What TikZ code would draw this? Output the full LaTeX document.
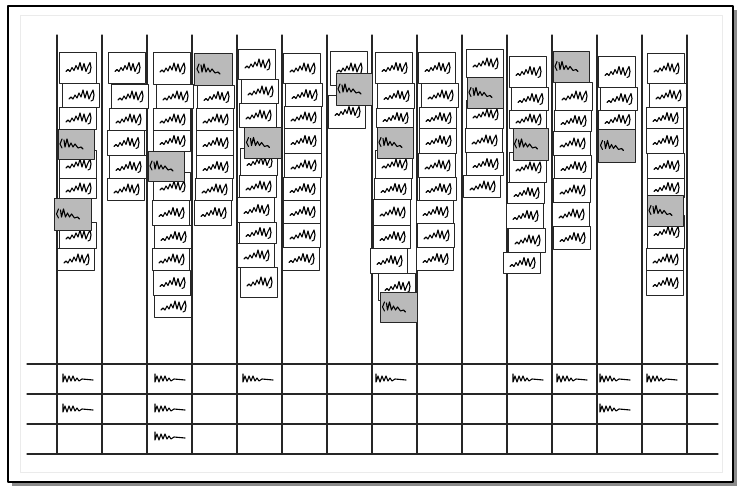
\documentclass[tikz,border=0pt]{standalone}
\begin{document}
\begin{tikzpicture}[x=1pt, y=-1pt, line join=round, line cap=round]
	\tikzset{
		card/.style={draw=black!85, fill=white, line width=0.9pt},
		hotcard/.style={card, fill=black!27},
		rule/.style={draw=black!85, line width=1.1pt},
		ink/.style={draw=black, line width=1.1pt},
		pics/wiggle/.style={code={
			\draw[ink] (-13,4) -- (-11,2) -- (-9,4) -- (-7,0) -- (-5,3) -- (-3,-2) -- (-1,2) -- (1,-5) -- (3,3)
				-- (5,-4) -- (7,4) -- (9,-1) -- (11,-5) -- (12,0) -- (11,5) -- (9,6);}},
		pics/curl/.style={code={
			\draw[ink] (-11,-5) -- (-13,0) -- (-11,4) (-9,-4) -- (-8,3) -- (-6,-5) -- (-4,3) -- (-2,-1)
				-- (0,3) -- (2,0) -- (5,4) -- (8,3) -- (10,5);}},
		pics/scrawl/.style={code={
			\draw[ink] (0,-5) -- (0,3) -- (2,-3) -- (4,3) -- (6,-3) -- (8,2) -- (10,-3) -- (12,2) -- (14,-1)
				-- (16,2) -- (19,0) -- (30,1);}}
	}
	\useasboundingbox (0,0) rectangle (737,487);
	% frame with its shadow
	\fill[black!45] (12,10) rectangle (737,486);
	\draw[fill=white, line width=1.2pt] (8,6) rectangle (733,482);
	\draw[black!8, line width=1pt] (20,16) rectangle (722,472);
	% columns and the table
	\foreach \k in {0,...,14}
		\draw[rule] ({57+45*\k},35) -- ({57+45*\k},454);
	\foreach \y in {364,394,424,454}
		\draw[rule] (27,\y) -- (718,\y);
	% white cards: left/top/bottom
	\def\whitecards{59/52/83, 62/83/107, 59/107/129, 59/150/178, 59/178/198, 59/222/248, 57/248/270,
		108/52/83, 111/84/108, 109/108/130, 107/130/155, 109/155/178, 107/178/200,
		153/52/84, 156/84/108, 153/108/130, 153/130/151, 153/172/200, 152/200/225, 154/225/248, 152/248/270, 153/270/295, 154/295/317,
		197/85/108, 196/108/130, 196/130/155, 196/155/178, 195/178/200, 194/200/225,
		238/49/79, 241/79/103, 239/103/127, 240/148/175, 239/175/197, 237/197/222, 239/222/243, 237/243/267, 240/267/297,
		283/53/83, 285/83/106, 284/106/128, 284/128/153, 284/153/177, 283/177/200, 283/200/223, 283/223/247, 282/247/270,
		330/51/85, 328/95/128,
		375/52/83, 377/83/108, 376/108/127, 375/150/178, 374/178/199, 373/199/225, 373/225/248, 370/248/273, 378/273/300,
		418/52/83, 421/83/107, 419/107/128, 419/128/153, 418/153/177, 419/177/200, 416/200/223, 417/223/247, 416/247/270,
		466/49/77, 466/100/128, 465/128/152, 466/152/175, 463/175/197,
		509/56/87, 511/87/110, 509/110/128, 509/152/182, 507/182/203, 506/203/228, 508/228/252, 503/252/273,
		555/82/110, 554/110/131, 553/131/155, 554/155/178, 553/178/202, 552/202/226, 553/226/249,
		598/56/87, 600/87/110, 598/110/129,
		647/53/83, 649/83/107, 646/107/128, 646/128/153, 647/153/178, 647/178/197, 647/215/248, 646/248/270, 646/270/295}
	\foreach \l/\t/\b in \whitecards {
		\draw[card] (\l,\t) rectangle ({\l+37},\b);
		\pic at ({\l+20},{(\t+\b)/2}) {wiggle};
	}
	% grey cards: left/top/bottom/width
	\def\greycards{58/129/159/36, 54/198/230/37, 148/151/181/36, 194/53/85/38, 244/127/158/37,
		336/73/105/36, 377/127/158/36, 380/292/322/37, 467/77/108/36, 513/128/160/35,
		553/51/82/36, 598/129/162/37, 647/195/226/36}
	\foreach \l/\t/\b/\w in \greycards {
		\draw[hotcard] (\l,\t) rectangle ({\l+\w},\b);
		\pic at ({\l+\w/2-3},{(\t+\b)/2}) {curl};
	}
	% handwriting in the table
	\foreach \x/\y in {63/379, 155/379, 243/379, 376/379, 513/379, 557/379, 600/379, 647/379,
		63/409, 155/409, 600/409, 155/437}
		\pic at (\x,\y) {scrawl};
\end{tikzpicture}
\end{document}
